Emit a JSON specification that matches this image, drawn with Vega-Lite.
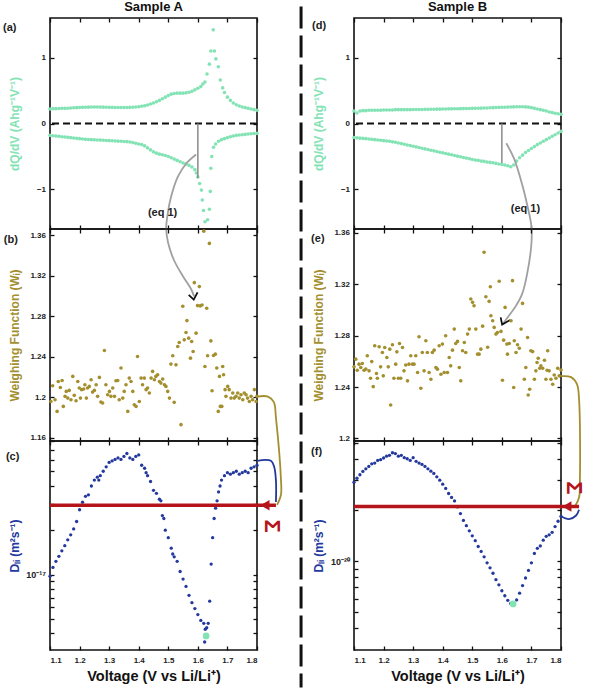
{
"$schema":"https://vega.github.io/schema/vega-lite/v6.json",
"padding":{"left":2,"top":0,"right":0,"bottom":0},
"config":{"font":"Liberation Sans","view":{"stroke":"#111","strokeWidth":1.6},
"axis":{"grid":false,"domain":false,"tickColor":"#111","tickWidth":1.3,"tickSize":-4,"labelPadding":8.5,"labelFont":"Liberation Sans","labelFontSize":8,"labelFontWeight":"bold","labelColor":"#222","titleFont":"Liberation Sans","titleFontSize":12,"titleFontWeight":"bold"},
"text":{"font":"Liberation Sans"}},
"datasets":{
"dqA":[{"V":1.1,"q":0.22},{"V":1.11,"q":0.225},{"V":1.12,"q":0.225},{"V":1.13,"q":0.228},{"V":1.14,"q":0.23},{"V":1.15,"q":0.23},{"V":1.16,"q":0.232},{"V":1.17,"q":0.235},{"V":1.18,"q":0.238},{"V":1.19,"q":0.24},{"V":1.2,"q":0.242},{"V":1.21,"q":0.245},{"V":1.22,"q":0.247},{"V":1.23,"q":0.248},{"V":1.24,"q":0.25},{"V":1.25,"q":0.25},{"V":1.26,"q":0.25},{"V":1.27,"q":0.249},{"V":1.28,"q":0.248},{"V":1.29,"q":0.247},{"V":1.3,"q":0.245},{"V":1.31,"q":0.244},{"V":1.32,"q":0.243},{"V":1.33,"q":0.242},{"V":1.34,"q":0.242},{"V":1.35,"q":0.242},{"V":1.36,"q":0.243},{"V":1.37,"q":0.244},{"V":1.38,"q":0.246},{"V":1.39,"q":0.25},{"V":1.4,"q":0.255},{"V":1.41,"q":0.262},{"V":1.42,"q":0.27},{"V":1.43,"q":0.28},{"V":1.44,"q":0.295},{"V":1.45,"q":0.31},{"V":1.46,"q":0.33},{"V":1.47,"q":0.35},{"V":1.48,"q":0.375},{"V":1.49,"q":0.4},{"V":1.5,"q":0.425},{"V":1.51,"q":0.445},{"V":1.52,"q":0.455},{"V":1.53,"q":0.46},{"V":1.54,"q":0.46},{"V":1.55,"q":0.46},{"V":1.56,"q":0.465},{"V":1.57,"q":0.475},{"V":1.58,"q":0.49},{"V":1.59,"q":0.51},{"V":1.6,"q":0.535},{"V":1.61,"q":0.56},{"V":1.617,"q":0.6},{"V":1.624,"q":0.63},{"V":1.631,"q":0.75},{"V":1.639,"q":0.9},{"V":1.644,"q":1.1},{"V":1.652,"q":1.42},{"V":1.656,"q":1.1},{"V":1.661,"q":0.98},{"V":1.669,"q":0.86},{"V":1.676,"q":0.66},{"V":1.684,"q":0.54},{"V":1.69,"q":0.47},{"V":1.7,"q":0.4},{"V":1.71,"q":0.35},{"V":1.72,"q":0.31},{"V":1.73,"q":0.285},{"V":1.74,"q":0.265},{"V":1.75,"q":0.25},{"V":1.76,"q":0.24},{"V":1.77,"q":0.23},{"V":1.78,"q":0.22},{"V":1.79,"q":0.21},{"V":1.8,"q":0.2},
{"V":1.1,"q":-0.18},{"V":1.11,"q":-0.185},{"V":1.12,"q":-0.19},{"V":1.13,"q":-0.195},{"V":1.14,"q":-0.2},{"V":1.15,"q":-0.205},{"V":1.16,"q":-0.21},{"V":1.17,"q":-0.215},{"V":1.18,"q":-0.22},{"V":1.19,"q":-0.225},{"V":1.2,"q":-0.23},{"V":1.21,"q":-0.235},{"V":1.22,"q":-0.24},{"V":1.23,"q":-0.243},{"V":1.24,"q":-0.245},{"V":1.25,"q":-0.248},{"V":1.26,"q":-0.25},{"V":1.27,"q":-0.252},{"V":1.28,"q":-0.255},{"V":1.29,"q":-0.257},{"V":1.3,"q":-0.26},{"V":1.31,"q":-0.262},{"V":1.32,"q":-0.265},{"V":1.33,"q":-0.268},{"V":1.34,"q":-0.27},{"V":1.35,"q":-0.272},{"V":1.36,"q":-0.275},{"V":1.37,"q":-0.28},{"V":1.38,"q":-0.29},{"V":1.39,"q":-0.3},{"V":1.4,"q":-0.31},{"V":1.41,"q":-0.32},{"V":1.42,"q":-0.34},{"V":1.43,"q":-0.37},{"V":1.44,"q":-0.4},{"V":1.45,"q":-0.43},{"V":1.46,"q":-0.45},{"V":1.47,"q":-0.465},{"V":1.48,"q":-0.475},{"V":1.49,"q":-0.485},{"V":1.5,"q":-0.5},{"V":1.51,"q":-0.52},{"V":1.52,"q":-0.54},{"V":1.53,"q":-0.56},{"V":1.54,"q":-0.58},{"V":1.55,"q":-0.6},{"V":1.56,"q":-0.615},{"V":1.57,"q":-0.635},{"V":1.58,"q":-0.66},{"V":1.59,"q":-0.7},{"V":1.595,"q":-0.75},{"V":1.6,"q":-0.81},{"V":1.606,"q":-0.91},{"V":1.612,"q":-1.01},{"V":1.615,"q":-1.16},{"V":1.619,"q":-1.32},{"V":1.624,"q":-1.49},{"V":1.633,"q":-1.46},{"V":1.639,"q":-1.3},{"V":1.642,"q":-1.03},{"V":1.644,"q":-0.68},{"V":1.647,"q":-0.5},{"V":1.653,"q":-0.36},{"V":1.66,"q":-0.31},{"V":1.67,"q":-0.27},{"V":1.68,"q":-0.245},{"V":1.69,"q":-0.23},{"V":1.7,"q":-0.215},{"V":1.71,"q":-0.2},{"V":1.72,"q":-0.19},{"V":1.73,"q":-0.18},{"V":1.74,"q":-0.175},{"V":1.75,"q":-0.17},{"V":1.76,"q":-0.165},{"V":1.77,"q":-0.16},{"V":1.78,"q":-0.155},{"V":1.79,"q":-0.152},{"V":1.8,"q":-0.15}],
"dqB":[{"V":1.1,"q":0.19},{"V":1.11,"q":0.16},{"V":1.12,"q":0.19},{"V":1.13,"q":0.195},{"V":1.14,"q":0.195},{"V":1.15,"q":0.2},{"V":1.16,"q":0.2},{"V":1.17,"q":0.2},{"V":1.18,"q":0.2},{"V":1.19,"q":0.2},{"V":1.2,"q":0.205},{"V":1.21,"q":0.205},{"V":1.22,"q":0.205},{"V":1.23,"q":0.205},{"V":1.24,"q":0.21},{"V":1.25,"q":0.21},{"V":1.26,"q":0.21},{"V":1.27,"q":0.21},{"V":1.28,"q":0.21},{"V":1.29,"q":0.21},{"V":1.3,"q":0.212},{"V":1.31,"q":0.212},{"V":1.32,"q":0.213},{"V":1.33,"q":0.213},{"V":1.34,"q":0.215},{"V":1.35,"q":0.215},{"V":1.36,"q":0.216},{"V":1.37,"q":0.217},{"V":1.38,"q":0.218},{"V":1.39,"q":0.218},{"V":1.4,"q":0.22},{"V":1.41,"q":0.22},{"V":1.42,"q":0.222},{"V":1.43,"q":0.222},{"V":1.44,"q":0.223},{"V":1.45,"q":0.224},{"V":1.46,"q":0.225},{"V":1.47,"q":0.226},{"V":1.48,"q":0.227},{"V":1.49,"q":0.228},{"V":1.5,"q":0.23},{"V":1.51,"q":0.23},{"V":1.52,"q":0.232},{"V":1.53,"q":0.233},{"V":1.54,"q":0.235},{"V":1.55,"q":0.236},{"V":1.56,"q":0.238},{"V":1.57,"q":0.24},{"V":1.58,"q":0.242},{"V":1.59,"q":0.244},{"V":1.6,"q":0.245},{"V":1.61,"q":0.247},{"V":1.62,"q":0.249},{"V":1.63,"q":0.25},{"V":1.64,"q":0.252},{"V":1.65,"q":0.253},{"V":1.66,"q":0.254},{"V":1.67,"q":0.254},{"V":1.68,"q":0.252},{"V":1.69,"q":0.248},{"V":1.7,"q":0.24},{"V":1.71,"q":0.23},{"V":1.72,"q":0.22},{"V":1.73,"q":0.21},{"V":1.74,"q":0.2},{"V":1.75,"q":0.19},{"V":1.76,"q":0.175},{"V":1.77,"q":0.165},{"V":1.78,"q":0.155},{"V":1.79,"q":0.148},{"V":1.8,"q":0.14},
{"V":1.1,"q":-0.213},{"V":1.11,"q":-0.218},{"V":1.12,"q":-0.222},{"V":1.13,"q":-0.226},{"V":1.14,"q":-0.23},{"V":1.15,"q":-0.235},{"V":1.16,"q":-0.24},{"V":1.17,"q":-0.245},{"V":1.18,"q":-0.25},{"V":1.19,"q":-0.255},{"V":1.2,"q":-0.26},{"V":1.21,"q":-0.265},{"V":1.22,"q":-0.27},{"V":1.23,"q":-0.278},{"V":1.24,"q":-0.285},{"V":1.25,"q":-0.295},{"V":1.26,"q":-0.305},{"V":1.27,"q":-0.315},{"V":1.28,"q":-0.325},{"V":1.29,"q":-0.335},{"V":1.3,"q":-0.345},{"V":1.31,"q":-0.355},{"V":1.32,"q":-0.365},{"V":1.33,"q":-0.375},{"V":1.34,"q":-0.385},{"V":1.35,"q":-0.395},{"V":1.36,"q":-0.405},{"V":1.37,"q":-0.415},{"V":1.38,"q":-0.425},{"V":1.39,"q":-0.435},{"V":1.4,"q":-0.445},{"V":1.41,"q":-0.455},{"V":1.42,"q":-0.465},{"V":1.43,"q":-0.475},{"V":1.44,"q":-0.485},{"V":1.45,"q":-0.495},{"V":1.46,"q":-0.505},{"V":1.47,"q":-0.515},{"V":1.48,"q":-0.525},{"V":1.49,"q":-0.535},{"V":1.5,"q":-0.545},{"V":1.51,"q":-0.555},{"V":1.52,"q":-0.56},{"V":1.53,"q":-0.57},{"V":1.54,"q":-0.575},{"V":1.55,"q":-0.585},{"V":1.56,"q":-0.59},{"V":1.57,"q":-0.595},{"V":1.58,"q":-0.605},{"V":1.59,"q":-0.615},{"V":1.6,"q":-0.62},{"V":1.61,"q":-0.63},{"V":1.62,"q":-0.64},{"V":1.63,"q":-0.655},{"V":1.64,"q":-0.63},{"V":1.65,"q":-0.57},{"V":1.66,"q":-0.52},{"V":1.67,"q":-0.48},{"V":1.68,"q":-0.44},{"V":1.69,"q":-0.41},{"V":1.7,"q":-0.38},{"V":1.71,"q":-0.35},{"V":1.72,"q":-0.32},{"V":1.73,"q":-0.295},{"V":1.74,"q":-0.27},{"V":1.75,"q":-0.245},{"V":1.76,"q":-0.22},{"V":1.77,"q":-0.195},{"V":1.78,"q":-0.17},{"V":1.79,"q":-0.145},{"V":1.8,"q":-0.12}],
"wA":[{"V":1.103,"W":1.196},{"V":1.109,"W":1.2115},{"V":1.117,"W":1.1977},{"V":1.124,"W":1.1862},{"V":1.128,"W":1.2157},{"V":1.135,"W":1.2098},{"V":1.141,"W":1.2167},{"V":1.145,"W":1.1911},{"V":1.151,"W":1.201},{"V":1.155,"W":1.2059},{"V":1.16,"W":1.1993},{"V":1.165,"W":1.2069},{"V":1.171,"W":1.1977},{"V":1.177,"W":1.2207},{"V":1.182,"W":1.202},{"V":1.188,"W":1.1967},{"V":1.194,"W":1.2157},{"V":1.199,"W":1.2092},{"V":1.203,"W":1.1993},{"V":1.207,"W":1.2076},{"V":1.214,"W":1.2082},{"V":1.218,"W":1.2125},{"V":1.223,"W":1.1993},{"V":1.227,"W":1.2092},{"V":1.233,"W":1.2108},{"V":1.239,"W":1.2174},{"V":1.244,"W":1.2052},{"V":1.25,"W":1.2069},{"V":1.256,"W":1.2125},{"V":1.261,"W":1.201},{"V":1.267,"W":1.2197},{"V":1.272,"W":1.1954},{"V":1.278,"W":1.1944},{"V":1.284,"W":1.2462},{"V":1.289,"W":1.2125},{"V":1.295,"W":1.2026},{"V":1.301,"W":1.2059},{"V":1.306,"W":1.201},{"V":1.312,"W":1.2092},{"V":1.318,"W":1.201},{"V":1.323,"W":1.2164},{"V":1.329,"W":1.2167},{"V":1.334,"W":1.1977},{"V":1.34,"W":1.2289},{"V":1.346,"W":1.1993},{"V":1.351,"W":1.2059},{"V":1.357,"W":1.2125},{"V":1.363,"W":1.1862},{"V":1.368,"W":1.219},{"V":1.374,"W":1.2157},{"V":1.38,"W":1.2059},{"V":1.385,"W":1.1928},{"V":1.391,"W":1.1911},{"V":1.396,"W":1.2403},{"V":1.402,"W":1.196},{"V":1.408,"W":1.219},{"V":1.413,"W":1.2125},{"V":1.419,"W":1.219},{"V":1.425,"W":1.2076},{"V":1.43,"W":1.2092},{"V":1.436,"W":1.2043},{"V":1.442,"W":1.219},{"V":1.447,"W":1.2256},{"V":1.453,"W":1.2174},{"V":1.458,"W":1.2207},{"V":1.464,"W":1.2223},{"V":1.47,"W":1.2157},{"V":1.475,"W":1.2141},{"V":1.481,"W":1.218},{"V":1.487,"W":1.2125},{"V":1.492,"W":1.2108},{"V":1.498,"W":1.2059},{"V":1.504,"W":1.1993},{"V":1.509,"W":1.2328},{"V":1.515,"W":1.241},{"V":1.52,"W":1.1951},{"V":1.526,"W":1.2321},{"V":1.532,"W":1.2502},{"V":1.537,"W":1.2541},{"V":1.543,"W":1.1731},{"V":1.549,"W":1.2898},{"V":1.554,"W":1.2567},{"V":1.56,"W":1.2639},{"V":1.563,"W":1.2757},{"V":1.569,"W":1.2584},{"V":1.575,"W":1.2387},{"V":1.579,"W":1.2551},{"V":1.584,"W":1.2452},{"V":1.588,"W":1.3131},{"V":1.594,"W":1.2633},{"V":1.599,"W":1.2905},{"V":1.605,"W":1.3092},{"V":1.608,"W":1.2902},{"V":1.614,"W":1.2911},{"V":1.62,"W":1.3639},{"V":1.624,"W":1.2305},{"V":1.63,"W":1.2879},{"V":1.633,"W":1.241},{"V":1.639,"W":1.3518},{"V":1.644,"W":1.2557},{"V":1.648,"W":1.2066},{"V":1.653,"W":1.2413},{"V":1.659,"W":1.2426},{"V":1.664,"W":1.2289},{"V":1.669,"W":1.1862},{"V":1.673,"W":1.2207},{"V":1.676,"W":1.1911},{"V":1.681,"W":1.1911},{"V":1.684,"W":1.2305},{"V":1.687,"W":1.2223},{"V":1.692,"W":1.2076},{"V":1.695,"W":1.201},{"V":1.701,"W":1.2108},{"V":1.706,"W":1.2076},{"V":1.712,"W":1.1993},{"V":1.718,"W":1.2043},{"V":1.723,"W":1.1993},{"V":1.729,"W":1.201},{"V":1.735,"W":1.2043},{"V":1.74,"W":1.1993},{"V":1.746,"W":1.2026},{"V":1.752,"W":1.1977},{"V":1.757,"W":1.2043},{"V":1.763,"W":1.2026},{"V":1.768,"W":1.1993},{"V":1.774,"W":1.196},{"V":1.78,"W":1.201},{"V":1.785,"W":1.1977},{"V":1.791,"W":1.2076},{"V":1.797,"W":1.196},{"V":1.8,"W":1.201}],
"wB":[{"V":1.1,"W":1.2557},{"V":1.106,"W":1.2617},{"V":1.111,"W":1.2531},{"V":1.117,"W":1.2578},{"V":1.123,"W":1.2552},{"V":1.128,"W":1.2583},{"V":1.134,"W":1.2531},{"V":1.14,"W":1.2539},{"V":1.145,"W":1.2643},{"V":1.151,"W":1.2526},{"V":1.156,"W":1.2468},{"V":1.16,"W":1.2598},{"V":1.165,"W":1.2403},{"V":1.17,"W":1.2721},{"V":1.176,"W":1.2505},{"V":1.179,"W":1.2468},{"V":1.185,"W":1.2713},{"V":1.19,"W":1.2557},{"V":1.196,"W":1.2669},{"V":1.199,"W":1.2487},{"V":1.204,"W":1.2708},{"V":1.211,"W":1.263},{"V":1.216,"W":1.2557},{"V":1.221,"W":1.2695},{"V":1.224,"W":1.226},{"V":1.23,"W":1.2729},{"V":1.235,"W":1.2468},{"V":1.241,"W":1.2578},{"V":1.245,"W":1.2674},{"V":1.25,"W":1.2468},{"V":1.254,"W":1.2739},{"V":1.258,"W":1.2468},{"V":1.264,"W":1.2708},{"V":1.269,"W":1.2526},{"V":1.275,"W":1.2572},{"V":1.281,"W":1.2448},{"V":1.286,"W":1.2578},{"V":1.292,"W":1.2643},{"V":1.298,"W":1.2578},{"V":1.303,"W":1.2578},{"V":1.309,"W":1.2643},{"V":1.315,"W":1.2513},{"V":1.32,"W":1.2791},{"V":1.326,"W":1.239},{"V":1.331,"W":1.2669},{"V":1.337,"W":1.2526},{"V":1.343,"W":1.276},{"V":1.348,"W":1.2669},{"V":1.354,"W":1.2513},{"V":1.36,"W":1.2461},{"V":1.365,"W":1.2669},{"V":1.371,"W":1.2687},{"V":1.377,"W":1.2552},{"V":1.382,"W":1.2539},{"V":1.388,"W":1.2721},{"V":1.394,"W":1.25},{"V":1.399,"W":1.2734},{"V":1.405,"W":1.2513},{"V":1.41,"W":1.2799},{"V":1.416,"W":1.2513},{"V":1.422,"W":1.263},{"V":1.427,"W":1.2565},{"V":1.433,"W":1.2687},{"V":1.439,"W":1.2851},{"V":1.444,"W":1.2739},{"V":1.45,"W":1.2755},{"V":1.456,"W":1.2552},{"V":1.461,"W":1.2448},{"V":1.467,"W":1.2682},{"V":1.473,"W":1.2747},{"V":1.478,"W":1.2669},{"V":1.484,"W":1.2812},{"V":1.49,"W":1.2851},{"V":1.495,"W":1.3085},{"V":1.501,"W":1.3059},{"V":1.506,"W":1.3033},{"V":1.512,"W":1.2851},{"V":1.518,"W":1.2656},{"V":1.523,"W":1.2656},{"V":1.529,"W":1.2695},{"V":1.535,"W":1.2874},{"V":1.54,"W":1.3449},{"V":1.546,"W":1.3103},{"V":1.552,"W":1.271},{"V":1.557,"W":1.3067},{"V":1.561,"W":1.3181},{"V":1.563,"W":1.2955},{"V":1.569,"W":1.2916},{"V":1.574,"W":1.2864},{"V":1.58,"W":1.2812},{"V":1.585,"W":1.2825},{"V":1.591,"W":1.3223},{"V":1.597,"W":1.2833},{"V":1.602,"W":1.2453},{"V":1.606,"W":1.2765},{"V":1.611,"W":1.302},{"V":1.617,"W":1.2734},{"V":1.619,"W":1.2656},{"V":1.625,"W":1.2739},{"V":1.631,"W":1.2916},{"V":1.636,"W":1.3228},{"V":1.64,"W":1.2396},{"V":1.642,"W":1.276},{"V":1.648,"W":1.2669},{"V":1.653,"W":1.2729},{"V":1.659,"W":1.2702},{"V":1.665,"W":1.2851},{"V":1.67,"W":1.3051},{"V":1.676,"W":1.2461},{"V":1.681,"W":1.2552},{"V":1.687,"W":1.2786},{"V":1.689,"W":1.2338},{"V":1.694,"W":1.2383},{"V":1.698,"W":1.2682},{"V":1.704,"W":1.2676},{"V":1.71,"W":1.2461},{"V":1.715,"W":1.2526},{"V":1.719,"W":1.2591},{"V":1.723,"W":1.2624},{"V":1.728,"W":1.2546},{"V":1.732,"W":1.2565},{"V":1.738,"W":1.2546},{"V":1.744,"W":1.2609},{"V":1.749,"W":1.2461},{"V":1.753,"W":1.2531},{"V":1.755,"W":1.2682},{"V":1.76,"W":1.2526},{"V":1.766,"W":1.2461},{"V":1.772,"W":1.2422},{"V":1.777,"W":1.2494},{"V":1.783,"W":1.2468},{"V":1.789,"W":1.2546},{"V":1.794,"W":1.2487},{"V":1.8,"W":1.2533}],
"dA":[{"V":1.1,"D":9.77e-18},{"V":1.11,"D":1.12e-17},{"V":1.12,"D":1.23e-17},{"V":1.13,"D":1.33e-17},{"V":1.14,"D":1.45e-17},{"V":1.15,"D":1.57e-17},{"V":1.16,"D":1.72e-17},{"V":1.17,"D":1.86e-17},{"V":1.18,"D":2.04e-17},{"V":1.19,"D":2.29e-17},{"V":1.2,"D":2.75e-17},{"V":1.21,"D":3.09e-17},{"V":1.22,"D":3.39e-17},{"V":1.23,"D":3.47e-17},{"V":1.24,"D":3.98e-17},{"V":1.25,"D":4.37e-17},{"V":1.26,"D":4.57e-17},{"V":1.265,"D":4.37e-17},{"V":1.27,"D":4.68e-17},{"V":1.28,"D":5.01e-17},{"V":1.29,"D":5.37e-17},{"V":1.3,"D":5.75e-17},{"V":1.31,"D":5.89e-17},{"V":1.32,"D":6.03e-17},{"V":1.33,"D":6.17e-17},{"V":1.34,"D":6.03e-17},{"V":1.35,"D":6.31e-17},{"V":1.36,"D":6.61e-17},{"V":1.37,"D":6.17e-17},{"V":1.38,"D":6.03e-17},{"V":1.39,"D":6.31e-17},{"V":1.4,"D":6.46e-17},{"V":1.41,"D":5.5e-17},{"V":1.42,"D":5.25e-17},{"V":1.425,"D":4.9e-17},{"V":1.43,"D":4.68e-17},{"V":1.44,"D":4.27e-17},{"V":1.45,"D":3.72e-17},{"V":1.46,"D":3.55e-17},{"V":1.47,"D":3.24e-17},{"V":1.475,"D":3.16e-17},{"V":1.48,"D":2.51e-17},{"V":1.485,"D":2.4e-17},{"V":1.49,"D":2.0e-17},{"V":1.5,"D":1.78e-17},{"V":1.51,"D":1.51e-17},{"V":1.515,"D":1.38e-17},{"V":1.52,"D":1.32e-17},{"V":1.53,"D":1.23e-17},{"V":1.54,"D":1.05e-17},{"V":1.55,"D":9.33e-18},{"V":1.56,"D":8.32e-18},{"V":1.57,"D":7.24e-18},{"V":1.58,"D":6.46e-18},{"V":1.59,"D":5.89e-18},{"V":1.6,"D":5.37e-18},{"V":1.61,"D":4.9e-18},{"V":1.62,"D":4.68e-18},{"V":1.623,"D":3.5e-18},{"V":1.625,"D":4.27e-18},{"V":1.63,"D":4.37e-18},{"V":1.635,"D":4.68e-18},{"V":1.64,"D":6.61e-18},{"V":1.645,"D":1.18e-17},{"V":1.65,"D":1.78e-17},{"V":1.655,"D":2.4e-17},{"V":1.66,"D":2.82e-17},{"V":1.665,"D":3.16e-17},{"V":1.67,"D":3.63e-17},{"V":1.675,"D":3.98e-17},{"V":1.68,"D":4.37e-17},{"V":1.69,"D":4.68e-17},{"V":1.7,"D":4.9e-17},{"V":1.71,"D":4.79e-17},{"V":1.72,"D":4.9e-17},{"V":1.73,"D":5.01e-17},{"V":1.74,"D":4.79e-17},{"V":1.75,"D":4.9e-17},{"V":1.76,"D":5.01e-17},{"V":1.77,"D":4.9e-17},{"V":1.78,"D":5.25e-17},{"V":1.79,"D":5.37e-17},{"V":1.8,"D":5.5e-17}],
"dB":[{"V":1.1,"D":2.93e-20},{"V":1.11,"D":3.09e-20},{"V":1.12,"D":3.24e-20},{"V":1.13,"D":3.39e-20},{"V":1.14,"D":3.51e-20},{"V":1.15,"D":3.63e-20},{"V":1.16,"D":3.76e-20},{"V":1.17,"D":3.8e-20},{"V":1.18,"D":3.94e-20},{"V":1.19,"D":3.98e-20},{"V":1.2,"D":4.07e-20},{"V":1.21,"D":4.17e-20},{"V":1.22,"D":4.22e-20},{"V":1.23,"D":4.37e-20},{"V":1.24,"D":4.32e-20},{"V":1.25,"D":4.17e-20},{"V":1.26,"D":4.22e-20},{"V":1.27,"D":4.09e-20},{"V":1.28,"D":4.03e-20},{"V":1.29,"D":3.94e-20},{"V":1.3,"D":4.09e-20},{"V":1.31,"D":3.89e-20},{"V":1.32,"D":3.8e-20},{"V":1.33,"D":3.73e-20},{"V":1.34,"D":3.63e-20},{"V":1.35,"D":3.51e-20},{"V":1.36,"D":3.4e-20},{"V":1.37,"D":3.3e-20},{"V":1.38,"D":3.15e-20},{"V":1.39,"D":3.01e-20},{"V":1.4,"D":2.85e-20},{"V":1.41,"D":2.69e-20},{"V":1.42,"D":2.51e-20},{"V":1.43,"D":2.38e-20},{"V":1.44,"D":2.27e-20},{"V":1.45,"D":2.09e-20},{"V":1.46,"D":1.91e-20},{"V":1.47,"D":1.74e-20},{"V":1.48,"D":1.62e-20},{"V":1.49,"D":1.51e-20},{"V":1.5,"D":1.41e-20},{"V":1.51,"D":1.32e-20},{"V":1.52,"D":1.22e-20},{"V":1.53,"D":1.14e-20},{"V":1.54,"D":1.06e-20},{"V":1.55,"D":9.77e-21},{"V":1.56,"D":9.12e-21},{"V":1.57,"D":8.47e-21},{"V":1.58,"D":7.76e-21},{"V":1.59,"D":7.24e-21},{"V":1.6,"D":6.68e-21},{"V":1.61,"D":6.24e-21},{"V":1.62,"D":5.86e-21},{"V":1.63,"D":5.62e-21},{"V":1.64,"D":5.62e-21},{"V":1.65,"D":5.89e-21},{"V":1.66,"D":6.46e-21},{"V":1.67,"D":7.16e-21},{"V":1.68,"D":7.94e-21},{"V":1.69,"D":8.81e-21},{"V":1.7,"D":9.77e-21},{"V":1.71,"D":1.11e-20},{"V":1.72,"D":1.19e-20},{"V":1.73,"D":1.23e-20},{"V":1.74,"D":1.33e-20},{"V":1.75,"D":1.4e-20},{"V":1.76,"D":1.43e-20},{"V":1.77,"D":1.48e-20},{"V":1.78,"D":1.6e-20},{"V":1.79,"D":1.72e-20},{"V":1.8,"D":1.84e-20}]
},
"spacing":304,
"bounds":"flush",
"hconcat":[
{"vconcat":[
{"width":207,"height":211,
"title":{"text":"Sample A","fontSize":13,"fontWeight":"bold","font":"Liberation Sans","color":"#111","offset":3},
"resolve":{"axis":{"x":"independent","y":"independent"}},
"layer":[
{"data":{"name":"dqA"},"mark":{"type":"circle","size":13,"color":"#84e3b5","opacity":1},
"encoding":{"x":{"field":"V","type":"quantitative","scale":{"domain":[1.1,1.8],"nice":false,"zero":false},"axis":{"orient":"bottom","values":[1.1,1.2,1.3,1.4,1.5,1.6,1.7,1.8],"labels":false,"title":null}},
"y":{"field":"q","type":"quantitative","scale":{"domain":[-1.6,1.6],"nice":false,"zero":false},"axis":{"orient":"left","values":[-1,0,1],"title":"dQ/dV (Ahg⁻¹V⁻¹)","titleColor":"#84e3b5","titleX":-36,"titleBaseline":"middle"}}}},
{"data":{"name":"dqA"},"mark":{"type":"circle","opacity":0},
"encoding":{"x":{"field":"V","type":"quantitative","scale":{"domain":[1.1,1.8],"nice":false,"zero":false},"axis":{"orient":"top","values":[1.1,1.2,1.3,1.4,1.5,1.6,1.7,1.8],"labels":false,"title":null}},
"y":{"field":"q","type":"quantitative","scale":{"domain":[-1.6,1.6],"nice":false,"zero":false},"axis":{"orient":"right","values":[-1,0,1],"labels":false,"title":null}}}},
{"data":{"values":[{"z":0}]},"mark":{"type":"rule","strokeDash":[7,4],"strokeWidth":1.8,"color":"#111"},
"encoding":{"y":{"field":"z","type":"quantitative","scale":{"domain":[-1.6,1.6],"nice":false,"zero":false},"axis":null}}},
{"data":{"values":[{"V":1.6,"a":0,"b":-0.83}]},"mark":{"type":"rule","strokeWidth":1.5,"color":"#8a8a8a"},
"encoding":{"x":{"field":"V","type":"quantitative","scale":{"domain":[1.1,1.8],"nice":false,"zero":false},"axis":null},"y":{"field":"a","type":"quantitative","scale":{"domain":[-1.6,1.6],"nice":false,"zero":false},"axis":null},"y2":{"field":"b"}}},
{"data":{"values":[{"i":1,"V":1.594,"y":-0.47},{"i":2,"V":1.56,"y":-0.61},{"i":3,"V":1.532,"y":-0.81},{"i":4,"V":1.509,"y":-1.12},{"i":5,"V":1.498,"y":-1.37},{"i":6,"V":1.493,"y":-1.6},{"i":7,"V":1.499,"y":-1.8},{"i":8,"V":1.519,"y":-2.07},{"i":9,"V":1.55,"y":-2.32},{"i":10,"V":1.577,"y":-2.51},{"i":11,"V":1.587,"y":-2.62}]},
"mark":{"type":"line","interpolate":"catmull-rom","strokeWidth":1.8,"color":"#a0a0a0"},
"encoding":{"x":{"field":"V","type":"quantitative","scale":{"domain":[1.1,1.8],"nice":false,"zero":false},"axis":null},"y":{"field":"y","type":"quantitative","scale":{"domain":[-1.6,1.6],"nice":false,"zero":false},"axis":null},"order":{"field":"i"}}},
{"data":{"values":[{"i":1,"V":1.569,"y":-2.6},{"i":2,"V":1.586,"y":-2.67},{"i":3,"V":1.599,"y":-2.56}]},
"mark":{"type":"line","strokeWidth":1.8,"color":"#111"},
"encoding":{"x":{"field":"V","type":"quantitative","scale":{"domain":[1.1,1.8],"nice":false,"zero":false},"axis":null},"y":{"field":"y","type":"quantitative","scale":{"domain":[-1.6,1.6],"nice":false,"zero":false},"axis":null},"order":{"field":"i"}}},
{"data":{"values":[{"V":1.431,"y":-1.35,"t":"(eq 1)"},{"V":0.941,"y":1.455,"t":"(a)"}]},
"mark":{"type":"text","fontWeight":"bold","fontSize":11,"color":"#222","align":"left","baseline":"middle"},
"encoding":{"x":{"field":"V","type":"quantitative","scale":{"domain":[1.1,1.8],"nice":false,"zero":false},"axis":null},"y":{"field":"y","type":"quantitative","scale":{"domain":[-1.6,1.6],"nice":false,"zero":false},"axis":null},"text":{"field":"t"}}}
]},
{"width":207,"height":212,
"resolve":{"axis":{"x":"independent","y":"independent"}},
"layer":[
{"data":{"name":"wA"},"mark":{"type":"circle","size":13,"color":"#a48f2f","opacity":1},
"encoding":{"x":{"field":"V","type":"quantitative","scale":{"domain":[1.1,1.8],"nice":false,"zero":false},"axis":{"orient":"bottom","values":[1.1,1.2,1.3,1.4,1.5,1.6,1.7,1.8],"labels":false,"title":null}},
"y":{"field":"W","type":"quantitative","scale":{"domain":[1.157,1.366],"nice":false,"zero":false},"axis":{"orient":"left","values":[1.16,1.2,1.24,1.28,1.32,1.36],"format":".2~f","title":"Weighing Function (Wᵢ)","titleColor":"#a48f2f","titleX":-36,"titleBaseline":"middle"}}}},
{"data":{"name":"wA"},"mark":{"type":"circle","opacity":0},
"encoding":{"x":{"field":"V","type":"quantitative","scale":{"domain":[1.1,1.8],"nice":false,"zero":false},"axis":{"orient":"top","values":[1.1,1.2,1.3,1.4,1.5,1.6,1.7,1.8],"labels":false,"title":null}},
"y":{"field":"W","type":"quantitative","scale":{"domain":[1.157,1.366],"nice":false,"zero":false},"axis":{"orient":"right","values":[1.16,1.2,1.24,1.28,1.32,1.36],"labels":false,"title":null}}}},
{"data":{"values":[{"i":1,"V":1.8,"y":1.2008},{"i":2,"V":1.837,"y":1.2008},{"i":3,"V":1.857,"y":1.1954},{"i":4,"V":1.864,"y":1.18},{"i":5,"V":1.881,"y":1.119},{"i":6,"V":1.881,"y":1.104},{"i":7,"V":1.868,"y":1.094}]},
"mark":{"type":"line","interpolate":"catmull-rom","strokeWidth":1.8,"color":"#a48f2f"},
"encoding":{"x":{"field":"V","type":"quantitative","scale":{"domain":[1.1,1.8],"nice":false,"zero":false},"axis":null},"y":{"field":"y","type":"quantitative","scale":{"domain":[1.157,1.366],"nice":false,"zero":false},"axis":null},"order":{"field":"i"}}},
{"data":{"values":[{"V":0.944,"y":1.355,"t":"(b)"}]},
"mark":{"type":"text","fontWeight":"bold","fontSize":11,"color":"#222","align":"left","baseline":"middle"},
"encoding":{"x":{"field":"V","type":"quantitative","scale":{"domain":[1.1,1.8],"nice":false,"zero":false},"axis":null},"y":{"field":"y","type":"quantitative","scale":{"domain":[1.157,1.366],"nice":false,"zero":false},"axis":null},"text":{"field":"t"}}}
]},
{"width":207,"height":209,
"resolve":{"axis":{"x":"independent","y":"independent"}},
"layer":[
{"data":{"name":"dA"},"mark":{"type":"circle","size":11,"color":"#24399d","opacity":1},
"encoding":{"x":{"field":"V","type":"quantitative","scale":{"domain":[1.1,1.8],"nice":false,"zero":false},"axis":{"orient":"bottom","values":[1.1,1.2,1.3,1.4,1.5,1.6,1.7,1.8],"format":".1f","labelPadding":10,"title":"Voltage (V vs Li/Li⁺)","titleFontSize":14.5,"titleColor":"#111","titlePadding":5}},
"y":{"field":"D","type":"quantitative","scale":{"type":"log","domain":[3.09e-18,8.03e-17],"nice":false},"axis":{"orient":"left","values":[4e-18,5e-18,6e-18,7e-18,8e-18,9e-18,1e-17,2e-17,3e-17,4e-17,5e-17,6e-17,7e-17,8e-17],"labelFontSize":9,"labelExpr":"datum.value > 9.9e-18 && datum.value < 1.01e-17 ? '10⁻¹⁷' : ''","title":"Dₗᵢ (m²s⁻¹)","titleColor":"#24399d","titleX":-36,"titleBaseline":"middle"}}}},
{"data":{"name":"dA"},"mark":{"type":"circle","opacity":0},
"encoding":{"x":{"field":"V","type":"quantitative","scale":{"domain":[1.1,1.8],"nice":false,"zero":false},"axis":{"orient":"top","values":[1.1,1.2,1.3,1.4,1.5,1.6,1.7,1.8],"labels":false,"title":null}},
"y":{"field":"D","type":"quantitative","scale":{"type":"log","domain":[3.09e-18,8.03e-17],"nice":false},"axis":{"orient":"right","values":[4e-18,5e-18,6e-18,7e-18,8e-18,9e-18,1e-17,2e-17,3e-17,4e-17,5e-17,6e-17,7e-17,8e-17],"labels":false,"title":null}}}},
{"data":{"values":[{"a":1.1,"b":1.864,"D":2.95e-17}]},"mark":{"type":"rule","strokeWidth":3.5,"color":"#b5141b"},
"encoding":{"x":{"field":"a","type":"quantitative","scale":{"domain":[1.1,1.8],"nice":false,"zero":false},"axis":null},"x2":{"field":"b"},"y":{"field":"D","type":"quantitative","scale":{"type":"log","domain":[3.09e-18,8.03e-17],"nice":false},"axis":null}}},
{"data":{"values":[{"V":1.827,"D":2.95e-17}]},"mark":{"type":"point","shape":"triangle-left","filled":true,"size":110,"color":"#b5141b","opacity":1},
"encoding":{"x":{"field":"V","type":"quantitative","scale":{"domain":[1.1,1.8],"nice":false,"zero":false},"axis":null},"y":{"field":"D","type":"quantitative","scale":{"type":"log","domain":[3.09e-18,8.03e-17],"nice":false},"axis":null}}},
{"data":{"values":[{"i":1,"V":1.8,"D":5.9e-17},{"i":2,"V":1.847,"D":5.9e-17},{"i":3,"V":1.858,"D":5.37e-17},{"i":4,"V":1.864,"D":4.36e-17},{"i":5,"V":1.864,"D":3.1e-17}]},
"mark":{"type":"line","interpolate":"catmull-rom","strokeWidth":1.8,"color":"#24399d"},
"encoding":{"x":{"field":"V","type":"quantitative","scale":{"domain":[1.1,1.8],"nice":false,"zero":false},"axis":null},"y":{"field":"D","type":"quantitative","scale":{"type":"log","domain":[3.09e-18,8.03e-17],"nice":false},"axis":null},"order":{"field":"i"}}},
{"data":{"values":[{"V":1.852,"D":2.13e-17,"t":"Σ"}]},
"mark":{"type":"text","fontWeight":"bold","fontSize":22,"angle":90,"color":"#b5141b","align":"center","baseline":"middle"},
"encoding":{"x":{"field":"V","type":"quantitative","scale":{"domain":[1.1,1.8],"nice":false,"zero":false},"axis":null},"y":{"field":"D","type":"quantitative","scale":{"type":"log","domain":[3.09e-18,8.03e-17],"nice":false},"axis":null},"text":{"field":"t"}}},
{"data":{"values":[{"V":1.628,"D":3.85e-18}]},"mark":{"type":"circle","size":45,"color":"#84e3b5","opacity":1},
"encoding":{"x":{"field":"V","type":"quantitative","scale":{"domain":[1.1,1.8],"nice":false,"zero":false},"axis":null},"y":{"field":"D","type":"quantitative","scale":{"type":"log","domain":[3.09e-18,8.03e-17],"nice":false},"axis":null}}},
{"data":{"values":[{"V":1.949,"a":7.0e-14,"b":1.72e-18}]},"mark":{"type":"rule","strokeWidth":3,"strokeDash":[22,7],"color":"#111"},
"encoding":{"x":{"field":"V","type":"quantitative","scale":{"domain":[1.1,1.8],"nice":false,"zero":false},"axis":null},"y":{"field":"a","type":"quantitative","scale":{"type":"log","domain":[3.09e-18,8.03e-17],"nice":false},"axis":null},"y2":{"field":"b"}}},
{"data":{"values":[{"V":0.951,"D":6.3e-17,"t":"(c)"}]},
"mark":{"type":"text","fontWeight":"bold","fontSize":11,"color":"#222","align":"left","baseline":"middle"},
"encoding":{"x":{"field":"V","type":"quantitative","scale":{"domain":[1.1,1.8],"nice":false,"zero":false},"axis":null},"y":{"field":"D","type":"quantitative","scale":{"type":"log","domain":[3.09e-18,8.03e-17],"nice":false},"axis":null},"text":{"field":"t"}}}
]}
],"spacing":0,"bounds":"flush"},
{"vconcat":[
{"width":207,"height":211,
"title":{"text":"Sample B","fontSize":13,"fontWeight":"bold","font":"Liberation Sans","color":"#111","offset":3},
"resolve":{"axis":{"x":"independent","y":"independent"}},
"layer":[
{"data":{"name":"dqB"},"mark":{"type":"circle","size":13,"color":"#84e3b5","opacity":1},
"encoding":{"x":{"field":"V","type":"quantitative","scale":{"domain":[1.1,1.8],"nice":false,"zero":false},"axis":{"orient":"bottom","values":[1.1,1.2,1.3,1.4,1.5,1.6,1.7,1.8],"labels":false,"title":null}},
"y":{"field":"q","type":"quantitative","scale":{"domain":[-1.6,1.6],"nice":false,"zero":false},"axis":{"orient":"left","values":[-1,0,1],"title":"dQ/dV (Ahg⁻¹V⁻¹)","titleColor":"#84e3b5","titleX":-36,"titleBaseline":"middle"}}}},
{"data":{"name":"dqB"},"mark":{"type":"circle","opacity":0},
"encoding":{"x":{"field":"V","type":"quantitative","scale":{"domain":[1.1,1.8],"nice":false,"zero":false},"axis":{"orient":"top","values":[1.1,1.2,1.3,1.4,1.5,1.6,1.7,1.8],"labels":false,"title":null}},
"y":{"field":"q","type":"quantitative","scale":{"domain":[-1.6,1.6],"nice":false,"zero":false},"axis":{"orient":"right","values":[-1,0,1],"labels":false,"title":null}}}},
{"data":{"values":[{"z":0}]},"mark":{"type":"rule","strokeDash":[7,4],"strokeWidth":1.8,"color":"#111"},
"encoding":{"y":{"field":"z","type":"quantitative","scale":{"domain":[-1.6,1.6],"nice":false,"zero":false},"axis":null}}},
{"data":{"values":[{"V":1.6,"a":0,"b":-0.6}]},"mark":{"type":"rule","strokeWidth":1.5,"color":"#8a8a8a"},
"encoding":{"x":{"field":"V","type":"quantitative","scale":{"domain":[1.1,1.8],"nice":false,"zero":false},"axis":null},"y":{"field":"a","type":"quantitative","scale":{"domain":[-1.6,1.6],"nice":false,"zero":false},"axis":null},"y2":{"field":"b"}}},
{"data":{"values":[{"i":1,"V":1.615,"y":-0.3},{"i":2,"V":1.641,"y":-0.53},{"i":3,"V":1.669,"y":-0.93},{"i":4,"V":1.686,"y":-1.24},{"i":5,"V":1.7,"y":-1.56},{"i":6,"V":1.7,"y":-1.82},{"i":7,"V":1.686,"y":-2.27},{"i":8,"V":1.669,"y":-2.58},{"i":9,"V":1.647,"y":-2.77},{"i":10,"V":1.618,"y":-2.95},{"i":11,"V":1.605,"y":-3.03}]},
"mark":{"type":"line","interpolate":"catmull-rom","strokeWidth":1.8,"color":"#a0a0a0"},
"encoding":{"x":{"field":"V","type":"quantitative","scale":{"domain":[1.1,1.8],"nice":false,"zero":false},"axis":null},"y":{"field":"y","type":"quantitative","scale":{"domain":[-1.6,1.6],"nice":false,"zero":false},"axis":null},"order":{"field":"i"}}},
{"data":{"values":[{"i":1,"V":1.596,"y":-2.94},{"i":2,"V":1.601,"y":-3.05},{"i":3,"V":1.628,"y":-2.98}]},
"mark":{"type":"line","strokeWidth":1.8,"color":"#111"},
"encoding":{"x":{"field":"V","type":"quantitative","scale":{"domain":[1.1,1.8],"nice":false,"zero":false},"axis":null},"y":{"field":"y","type":"quantitative","scale":{"domain":[-1.6,1.6],"nice":false,"zero":false},"axis":null},"order":{"field":"i"}}},
{"data":{"values":[{"V":1.63,"y":-1.29,"t":"(eq 1)"},{"V":0.958,"y":1.485,"t":"(d)"}]},
"mark":{"type":"text","fontWeight":"bold","fontSize":11,"color":"#222","align":"left","baseline":"middle"},
"encoding":{"x":{"field":"V","type":"quantitative","scale":{"domain":[1.1,1.8],"nice":false,"zero":false},"axis":null},"y":{"field":"y","type":"quantitative","scale":{"domain":[-1.6,1.6],"nice":false,"zero":false},"axis":null},"text":{"field":"t"}}}
]},
{"width":207,"height":212,
"resolve":{"axis":{"x":"independent","y":"independent"}},
"layer":[
{"data":{"name":"wB"},"mark":{"type":"circle","size":13,"color":"#a48f2f","opacity":1},
"encoding":{"x":{"field":"V","type":"quantitative","scale":{"domain":[1.1,1.8],"nice":false,"zero":false},"axis":{"orient":"bottom","values":[1.1,1.2,1.3,1.4,1.5,1.6,1.7,1.8],"labels":false,"title":null}},
"y":{"field":"W","type":"quantitative","scale":{"domain":[1.198,1.363],"nice":false,"zero":false},"axis":{"orient":"left","values":[1.2,1.24,1.28,1.32,1.36],"format":".2~f","title":"Weighing Function (Wᵢ)","titleColor":"#a48f2f","titleX":-36,"titleBaseline":"middle"}}}},
{"data":{"name":"wB"},"mark":{"type":"circle","opacity":0},
"encoding":{"x":{"field":"V","type":"quantitative","scale":{"domain":[1.1,1.8],"nice":false,"zero":false},"axis":{"orient":"top","values":[1.1,1.2,1.3,1.4,1.5,1.6,1.7,1.8],"labels":false,"title":null}},
"y":{"field":"W","type":"quantitative","scale":{"domain":[1.198,1.363],"nice":false,"zero":false},"axis":{"orient":"right","values":[1.2,1.24,1.28,1.32,1.36],"labels":false,"title":null}}}},
{"data":{"values":[{"i":1,"V":1.8,"y":1.2485},{"i":2,"V":1.834,"y":1.2477},{"i":3,"V":1.854,"y":1.2422},{"i":4,"V":1.861,"y":1.2305},{"i":5,"V":1.864,"y":1.168},{"i":6,"V":1.861,"y":1.154},{"i":7,"V":1.847,"y":1.147}]},
"mark":{"type":"line","interpolate":"catmull-rom","strokeWidth":1.8,"color":"#a48f2f"},
"encoding":{"x":{"field":"V","type":"quantitative","scale":{"domain":[1.1,1.8],"nice":false,"zero":false},"axis":null},"y":{"field":"y","type":"quantitative","scale":{"domain":[1.198,1.363],"nice":false,"zero":false},"axis":null},"order":{"field":"i"}}},
{"data":{"values":[{"V":0.955,"y":1.3553,"t":"(e)"}]},
"mark":{"type":"text","fontWeight":"bold","fontSize":11,"color":"#222","align":"left","baseline":"middle"},
"encoding":{"x":{"field":"V","type":"quantitative","scale":{"domain":[1.1,1.8],"nice":false,"zero":false},"axis":null},"y":{"field":"y","type":"quantitative","scale":{"domain":[1.198,1.363],"nice":false,"zero":false},"axis":null},"text":{"field":"t"}}}
]},
{"width":207,"height":209,
"resolve":{"axis":{"x":"independent","y":"independent"}},
"layer":[
{"data":{"name":"dB"},"mark":{"type":"circle","size":11,"color":"#24399d","opacity":1},
"encoding":{"x":{"field":"V","type":"quantitative","scale":{"domain":[1.1,1.8],"nice":false,"zero":false},"axis":{"orient":"bottom","values":[1.1,1.2,1.3,1.4,1.5,1.6,1.7,1.8],"format":".1f","labelPadding":10,"title":"Voltage (V vs Li/Li⁺)","titleFontSize":14.5,"titleColor":"#111","titlePadding":5}},
"y":{"field":"D","type":"quantitative","scale":{"type":"log","domain":[2.98e-21,5.13e-20],"nice":false},"axis":{"orient":"left","values":[4e-21,5e-21,6e-21,7e-21,8e-21,9e-21,1e-20,2e-20,3e-20,4e-20,5e-20],"labelFontSize":9,"labelExpr":"datum.value > 9.9e-21 && datum.value < 1.01e-20 ? '10⁻²⁰' : ''","title":"Dₗᵢ (m²s⁻¹)","titleColor":"#24399d","titleX":-36,"titleBaseline":"middle"}}}},
{"data":{"name":"dB"},"mark":{"type":"circle","opacity":0},
"encoding":{"x":{"field":"V","type":"quantitative","scale":{"domain":[1.1,1.8],"nice":false,"zero":false},"axis":{"orient":"top","values":[1.1,1.2,1.3,1.4,1.5,1.6,1.7,1.8],"labels":false,"title":null}},
"y":{"field":"D","type":"quantitative","scale":{"type":"log","domain":[2.98e-21,5.13e-20],"nice":false},"axis":{"orient":"right","values":[4e-21,5e-21,6e-21,7e-21,8e-21,9e-21,1e-20,2e-20,3e-20,4e-20,5e-20],"labels":false,"title":null}}}},
{"data":{"values":[{"a":1.1,"b":1.861,"D":2.1e-20}]},"mark":{"type":"rule","strokeWidth":3.5,"color":"#b5141b"},
"encoding":{"x":{"field":"a","type":"quantitative","scale":{"domain":[1.1,1.8],"nice":false,"zero":false},"axis":null},"x2":{"field":"b"},"y":{"field":"D","type":"quantitative","scale":{"type":"log","domain":[2.98e-21,5.13e-20],"nice":false},"axis":null}}},
{"data":{"values":[{"V":1.82,"D":2.1e-20}]},"mark":{"type":"point","shape":"triangle-left","filled":true,"size":110,"color":"#b5141b","opacity":1},
"encoding":{"x":{"field":"V","type":"quantitative","scale":{"domain":[1.1,1.8],"nice":false,"zero":false},"axis":null},"y":{"field":"D","type":"quantitative","scale":{"type":"log","domain":[2.98e-21,5.13e-20],"nice":false},"axis":null}}},
{"data":{"values":[{"i":1,"V":1.8,"D":1.84e-20},{"i":2,"V":1.827,"D":1.77e-20},{"i":3,"V":1.851,"D":1.86e-20},{"i":4,"V":1.861,"D":2.01e-20}]},
"mark":{"type":"line","interpolate":"catmull-rom","strokeWidth":1.8,"color":"#24399d"},
"encoding":{"x":{"field":"V","type":"quantitative","scale":{"domain":[1.1,1.8],"nice":false,"zero":false},"axis":null},"y":{"field":"D","type":"quantitative","scale":{"type":"log","domain":[2.98e-21,5.13e-20],"nice":false},"axis":null},"order":{"field":"i"}}},
{"data":{"values":[{"V":1.844,"D":2.71e-20,"t":"Σ"}]},
"mark":{"type":"text","fontWeight":"bold","fontSize":22,"angle":90,"color":"#b5141b","align":"center","baseline":"middle"},
"encoding":{"x":{"field":"V","type":"quantitative","scale":{"domain":[1.1,1.8],"nice":false,"zero":false},"axis":null},"y":{"field":"D","type":"quantitative","scale":{"type":"log","domain":[2.98e-21,5.13e-20],"nice":false},"axis":null},"text":{"field":"t"}}},
{"data":{"values":[{"V":1.638,"D":5.58e-21}]},"mark":{"type":"circle","size":45,"color":"#84e3b5","opacity":1},
"encoding":{"x":{"field":"V","type":"quantitative","scale":{"domain":[1.1,1.8],"nice":false,"zero":false},"axis":null},"y":{"field":"D","type":"quantitative","scale":{"type":"log","domain":[2.98e-21,5.13e-20],"nice":false},"axis":null}}},
{"data":{"values":[{"V":0.955,"D":4.42e-20,"t":"(f)"}]},
"mark":{"type":"text","fontWeight":"bold","fontSize":11,"color":"#222","align":"left","baseline":"middle"},
"encoding":{"x":{"field":"V","type":"quantitative","scale":{"domain":[1.1,1.8],"nice":false,"zero":false},"axis":null},"y":{"field":"D","type":"quantitative","scale":{"type":"log","domain":[2.98e-21,5.13e-20],"nice":false},"axis":null},"text":{"field":"t"}}}
]}
],"spacing":0,"bounds":"flush"}
]
}
